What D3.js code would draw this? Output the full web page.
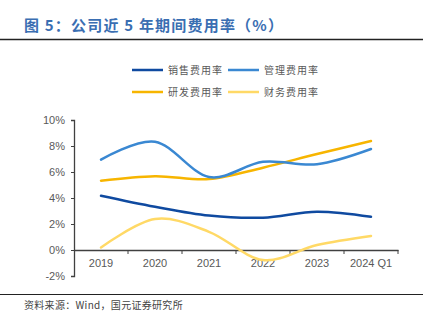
<!DOCTYPE html>
<html><head><meta charset="utf-8">
<script src="https://cdn.jsdelivr.net/npm/d3@7"></script>
<style>body{margin:0;background:#fff}svg{display:block}</style>
</head><body>
<svg id="c" width="437" height="322"></svg>
<script>
const categories = ["2019","2020","2021","2022","2023","2024 Q1"];
const sales   = [4.18, 3.33, 2.65, 2.49, 2.95, 2.56];
const admin   = [6.95, 8.33, 5.62, 6.78, 6.60, 7.77];
const rnd     = [5.33, 5.68, 5.46, 6.33, 7.38, 8.38];
const finance = [0.20, 2.38, 1.40, -0.77, 0.38, 1.08];
const yTicks  = [-2, 0, 2, 4, 6, 8, 10];
const seriesNames = ["销售费用率","管理费用率","研发费用率","财务费用率"];
const colors = ["#0f4aa0","#3a88d2","#f7b500","#ffd966"];
const allSeries = [sales, admin, rnd, finance];

const svg = d3.select("#c");
const font = "'Noto Sans CJK SC', sans-serif";

// title
svg.append("text").attr("x",24).attr("y",31).attr("font-family",font)
  .attr("font-size",15).attr("font-weight","bold").attr("fill","#3a6eb2")
  .attr("letter-spacing",1.2)
  .text("图 5：公司近 5 年期间费用率（%）");
svg.append("line").attr("x1",0).attr("x2",423).attr("y1",39.5).attr("y2",39.5)
  .attr("stroke","#222").attr("stroke-width",1.5);
svg.append("line").attr("x1",0).attr("x2",423).attr("y1",294.5).attr("y2",294.5)
  .attr("stroke","#222").attr("stroke-width",1.2);
svg.append("text").attr("x",24).attr("y",309).attr("font-family",font)
  .attr("font-size",10).attr("fill","#444").attr("letter-spacing",0.3).text("资料来源：Wind，国元证券研究所");

const x = d3.scaleBand().domain(categories).range([74,398]);
const y = d3.scaleLinear().domain([-2,10]).range([276,120]);

// y axis
const ya = svg.append("g").attr("transform","translate(74,0)")
  .call(d3.axisLeft(y).tickValues(yTicks).tickFormat(d=>d+"%").tickSizeOuter(0).tickSize(3));
ya.select(".domain").attr("stroke","#404040").attr("stroke-width",1.3);
ya.selectAll(".tick line").attr("stroke","#404040");
ya.selectAll("text").attr("fill","#595959").attr("font-size",11).attr("font-family","'Liberation Sans', Arial, sans-serif").attr("x",-9);

// x axis at 0
const xa = svg.append("g").attr("transform",`translate(0,${y(0)})`)
  .call(d3.axisBottom(x).tickSize(0).tickSizeOuter(0));
xa.select(".domain").attr("stroke","#404040").attr("stroke-width",1.3);
xa.selectAll("text").attr("fill","#595959").attr("font-size",11).attr("font-family","'Liberation Sans', Arial, sans-serif").attr("dy",0).attr("y",17);
// band boundary ticks
const bounds = categories.map(c=>x(c)+x.bandwidth());
svg.append("g").selectAll("line").data(bounds).join("line")
  .attr("x1",d=>d).attr("x2",d=>d).attr("y1",y(0)).attr("y2",y(0)+4)
  .attr("stroke","#404040").attr("stroke-width",1);

const line = d3.line().x((d,i)=>x(categories[i])+x.bandwidth()/2).y(d=>y(d))
  .curve(d3.curveCardinal.tension(0));
// draw order: finance, sales, rnd, admin
[3,0,2,1].forEach(k=>{
  svg.append("path").attr("d",line(allSeries[k])).attr("fill","none")
    .attr("stroke",colors[k]).attr("stroke-width",2.5).attr("stroke-linecap","round");
});

// legend
const leg = [[132,70],[228,70],[132,92],[228,92]];
seriesNames.forEach((n,i)=>{
  const [lx,ly]=leg[i];
  svg.append("line").attr("x1",lx).attr("x2",lx+31).attr("y1",ly).attr("y2",ly)
    .attr("stroke",colors[i]).attr("stroke-width",2.5);
  svg.append("text").attr("x",lx+36).attr("y",ly+3.5).attr("font-family",font)
    .attr("font-size",10).attr("fill","#595959").attr("letter-spacing",1).text(n);
});
</script>
</body></html>
